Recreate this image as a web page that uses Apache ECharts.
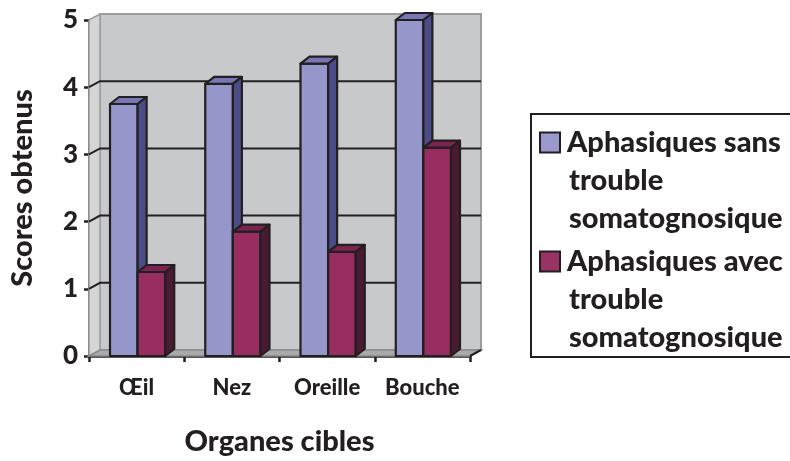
<!DOCTYPE html>
<html>
<head>
<meta charset="utf-8">
<script src="https://cdn.jsdelivr.net/npm/echarts@6/dist/echarts.min.js"></script>
<style>
  html, body { margin: 0; padding: 0; background: #fff; }
  #chart { width: 790px; height: 461px; }
</style>
</head>
<body>
<div id="chart"></div>
<script>
// données
const organes = ['Œil', 'Nez', 'Oreille', 'Bouche'];
const sansTrouble = [3.75, 4.05, 4.35, 5];
const avecTrouble = [1.25, 1.85, 1.55, 3.1];
const yTicks = [0, 1, 2, 3, 4, 5];
const nomSans = 'Aphasiques sans trouble somatognosique';
const nomAvec = 'Aphasiques avec trouble somatognosique';

const INK = '#231f20';
const FONT = 'Lato';
const WEIGHT = 900;
// profondeur des murs / des barres (effet 3D)
const WDX = 11, WDY = -6;
const BDX = 9, BDY = -7;

// rendu des murs + quadrillage (une ligne par graduation)
function renderWalls (params, api) {
  const cs = params.coordSys;
  const xl = cs.x, xr = cs.x + cs.width;
  const yTop = cs.y, yBot = cs.y + cs.height;
  const v = api.value(0);
  const y = api.coord([0, v])[1];
  const children = [];
  if (params.dataIndex === 0) {
    // mur du fond
    children.push({
      type: 'rect',
      shape: { x: xl + WDX, y: yTop + WDY, width: cs.width, height: cs.height },
      style: { fill: '#c8c9cb', stroke: '#9c9d9f', lineWidth: 2 }
    });
    // mur gauche
    children.push({
      type: 'polygon',
      shape: { points: [[xl, yTop], [xl + WDX, yTop + WDY], [xl + WDX, yBot + WDY], [xl, yBot]] },
      style: { fill: '#d4d5d7', stroke: '#9c9d9f', lineWidth: 1.5 }
    });
    // sol
    children.push({
      type: 'polygon',
      shape: { points: [[xl, yBot], [xr, yBot], [xr + WDX, yBot + WDY], [xl + WDX, yBot + WDY]] },
      style: { fill: '#a9aaac', stroke: '#8a8b8d', lineWidth: 1.5 }
    });
    children.push({
      type: 'line',
      shape: { x1: xr, y1: yBot, x2: xr + WDX, y2: yBot + WDY },
      style: { stroke: INK, lineWidth: 2 }
    });
  }
  if (v > 0 && v < 5) {
    children.push({
      type: 'polyline',
      shape: { points: [[xl, y], [xl + WDX, y + WDY], [xr + WDX, y + WDY]] },
      style: { stroke: INK, lineWidth: 2, fill: null }
    });
  }
  return { type: 'group', children: children };
}

// barre 3D : face avant, dessus, côté
function barRenderer (front, top, side, slot) {
  return function (params, api) {
    const cat = api.value(0);
    const val = api.value(1);
    const bw = api.size([1, 0])[0];
    const w = bw * 0.29;
    const pTop = api.coord([cat, val]);
    const pBot = api.coord([cat, 0]);
    const x0 = pTop[0] + 1 + (slot === 0 ? -w : 0);
    const x1 = x0 + w;
    const yt = pTop[1], yb = pBot[1];
    const st = { stroke: INK, lineWidth: 2.2, lineJoin: 'round' };
    return {
      type: 'group',
      children: [
        { type: 'rect', shape: { x: x0, y: yt, width: w, height: yb - yt }, style: Object.assign({ fill: front }, st) },
        { type: 'polygon', shape: { points: [[x0, yt], [x1, yt], [x1 + BDX, yt + BDY], [x0 + BDX, yt + BDY]] }, style: Object.assign({ fill: top }, st) },
        { type: 'polygon', shape: { points: [[x1, yt], [x1 + BDX, yt + BDY], [x1 + BDX, yb + BDY], [x1, yb]] }, style: Object.assign({ fill: side }, st) }
      ]
    };
  };
}

const legendTexts = {};
legendTexts[nomSans] = '{b0|}{g|}{t|Aphasiques sans}\n{s|}{t|trouble}\n{s|}{t|somatognosique}';
legendTexts[nomAvec] = '{b1|}{g|}{t|Aphasiques avec}\n{s|}{t|trouble}\n{s|}{t|somatognosique}';

const chart = echarts.init(document.getElementById('chart'));
chart.setOption({
  animation: false,
  grid: { left: 89, right: 320, top: 20, bottom: 102 },
  legend: {
    orient: 'vertical',
    left: 531,
    top: 114,
    data: [nomSans, nomAvec],
    itemWidth: 0,
    itemHeight: 0,
    itemGap: 14,
    itemStyle: { borderWidth: 0, opacity: 0 },
    padding: [14, 40, 5, 5],
    borderColor: INK,
    borderWidth: 2,
    selectedMode: false,
    formatter: function (name) { return legendTexts[name]; },
    textStyle: {
      fontFamily: FONT,
      fontWeight: WEIGHT,
      fontSize: 29,
      color: INK,
      rich: {
        b0: { width: 18, height: 18, backgroundColor: '#9999cc', borderColor: INK, borderWidth: 2 },
        b1: { width: 18, height: 18, backgroundColor: '#993366', borderColor: INK, borderWidth: 2 },
        g: { width: 8, lineHeight: 38 },
        s: { width: 28, lineHeight: 38 },
        t: { fontFamily: FONT, fontWeight: WEIGHT, fontSize: 29, color: INK, lineHeight: 38 }
      }
    }
  },
  xAxis: {
    type: 'category',
    data: organes,
    boundaryGap: true,
    name: 'Organes cibles',
    nameLocation: 'middle',
    nameGap: 71,
    nameTextStyle: { fontFamily: FONT, fontWeight: WEIGHT, fontSize: 29, color: INK },
    axisLine: { lineStyle: { color: INK, width: 2.5 } },
    axisTick: { show: true, length: 6, interval: 0, lineStyle: { color: INK, width: 2.5 } },
    axisLabel: { interval: 0, margin: 21, fontFamily: FONT, fontWeight: WEIGHT, fontSize: 22, color: INK }
  },
  yAxis: {
    type: 'value',
    min: 0,
    max: 5,
    interval: 1,
    name: 'Scores obtenus',
    nameLocation: 'middle',
    nameGap: 52,
    nameTextStyle: { fontFamily: FONT, fontWeight: WEIGHT, fontSize: 29, color: INK },
    splitLine: { show: false },
    axisLine: { show: true, lineStyle: { color: INK, width: 2.5 } },
    axisTick: { show: true, length: 5, lineStyle: { color: INK, width: 2.5 } },
    axisLabel: { margin: 11, fontFamily: FONT, fontWeight: WEIGHT, fontSize: 26, color: INK }
  },
  series: [
    {
      name: 'murs',
      type: 'custom',
      silent: true,
      z: 1,
      data: yTicks.map(v => [v]),
      encode: { y: 0 },
      renderItem: renderWalls
    },
    {
      name: nomSans,
      type: 'custom',
      z: 2,
      itemStyle: { color: '#9999cc' },
      data: organes.map((c, i) => [i, sansTrouble[i]]),
      encode: { x: 0, y: 1 },
      renderItem: barRenderer('#9596c9', '#7677b6', '#4b4c88', 0)
    },
    {
      name: nomAvec,
      type: 'custom',
      z: 3,
      itemStyle: { color: '#993366' },
      data: organes.map((c, i) => [i, avecTrouble[i]]),
      encode: { x: 0, y: 1 },
      renderItem: barRenderer('#972d60', '#7a2450', '#4a1a33', 1)
    }
  ]
});
</script>
</body>
</html>
